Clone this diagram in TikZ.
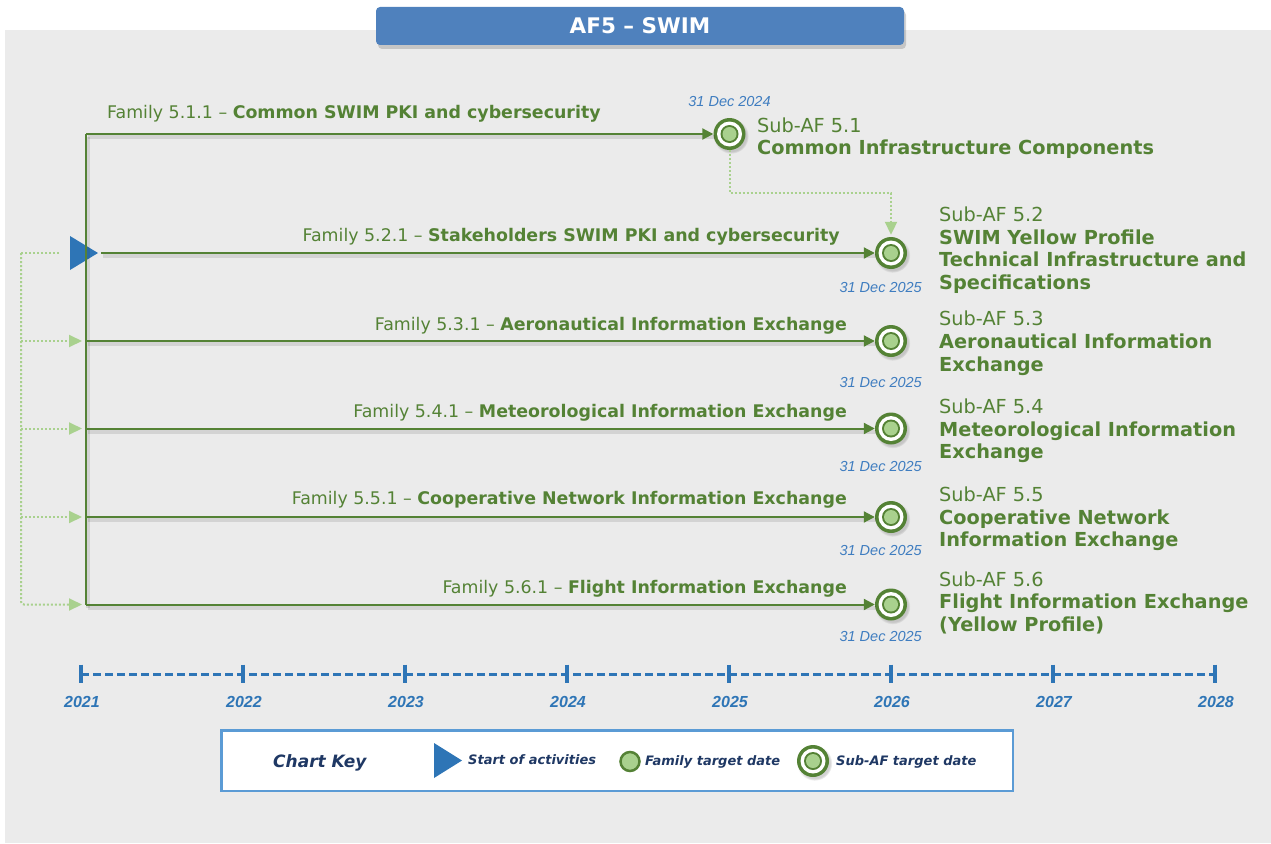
\documentclass[tikz,border=0pt]{standalone}
\usepackage{fontspec}
\setmainfont{DejaVu Sans}
\newfontfamily\arialfont{Liberation Sans}
\usetikzlibrary{arrows.meta,shadows}
\definecolor{dgreen}{HTML}{548235}
\definecolor{lgreen}{HTML}{A9D18E}
\definecolor{tblue}{HTML}{2E75B6}
\definecolor{dateblue}{HTML}{3F7DC0}
\definecolor{titleblue}{HTML}{4F81BD}
\definecolor{keyborder}{HTML}{5B9BD5}
\definecolor{navy}{HTML}{1F3864}
\definecolor{bggray}{HTML}{EBEBEB}
\begin{document}
\begin{tikzpicture}[x=1pt,y=-1pt,
  famline/.style={draw=dgreen, line width=2pt, -{Triangle[length=11pt,width=11pt]},
    preaction={draw=black, opacity=0.10, line width=4pt, arrows=-, transform canvas={shift={(1.5pt,-3pt)}}}},
  plainline/.style={draw=dgreen, line width=2pt,
    preaction={draw=black, opacity=0.10, line width=4pt, transform canvas={shift={(1.5pt,-3pt)}}}},
  dotline/.style={draw=lgreen, line width=2pt, dash pattern=on 2pt off 2pt},
  dotarrow/.style={dotline, -{Triangle[length=13pt,width=12pt]}},
  subaf/.style={circle, minimum size=32pt, inner sep=0pt, fill=dgreen,
    circular drop shadow={shadow xshift=1.5pt, shadow yshift=-2pt, opacity=0.35},
    path picture={
      \fill[white] (path picture bounding box.center) circle (12.5pt);
      \fill[dgreen] (path picture bounding box.center) circle (9pt);
      \fill[lgreen] (path picture bounding box.center) circle (7pt);}},
  famdot/.style={circle, minimum size=19pt, inner sep=0pt, fill=lgreen, draw=dgreen, line width=2.5pt},
  famlab/.style={inner sep=0pt, text=dgreen, font=\fontsize{17.4}{21}\selectfont},
  sublab/.style={inner sep=0pt, text=dgreen, anchor=base west, font=\fontsize{19.3}{23}\selectfont},
  datelab/.style={inner sep=0pt, text=dateblue, font=\arialfont\itshape\fontsize{14.5}{17}\selectfont},
  yearlab/.style={inner sep=0pt, text=tblue, anchor=base, font=\arialfont\bfseries\itshape\fontsize{16}{19}\selectfont},
  keylab/.style={inner sep=0pt, text=navy, anchor=base west, font=\bfseries\itshape\fontsize{13}{16}\selectfont},
]
\useasboundingbox (0,0) rectangle (1271,843);
% background
\fill[bggray] (5,30) rectangle (1271,843);

% title
\node[fill=titleblue, rounded corners=4pt, minimum width=528pt, minimum height=38pt, inner sep=0pt,
  drop shadow={shadow xshift=2pt, shadow yshift=-4pt, opacity=0.35},
  text=white, font=\bfseries\fontsize{21.5}{24}\selectfont] (title) at (640,26) {AF5 -- SWIM};

% sub-AF target circles
\node[subaf] (c51) at (729.5,134) {};
\node[subaf] (c52) at (891,253) {};
\node[subaf] (c53) at (891,341) {};
\node[subaf] (c54) at (891,428.5) {};
\node[subaf] (c55) at (891,517) {};
\node[subaf] (c56) at (891,604.5) {};

% start triangle
\fill[tblue] (70,236) -- (70,270) -- (98,253) -- cycle;
\coordinate (tritip) at (101,253);

% main green connectors
\coordinate (vtop) at (86,134);
\coordinate (vbot) at (86,604.5);
\coordinate (r3) at (86,341);
\coordinate (r4) at (86,428.5);
\coordinate (r5) at (86,517);
\draw[plainline] (vbot) -- (vtop);
\draw[famline] (vtop) -- (c51);
\draw[famline] (tritip) -- (c52);
\draw[famline] (r3) -- (c53);
\draw[famline] (r4) -- (c54);
\draw[famline] (r5) -- (c55);
\draw[famline] (vbot) -- (c56);

% dotted light green connectors
\coordinate (d2) at (21,253);
\coordinate (d6) at (21,604.5);
\coordinate (d2e) at (59,253);
\coordinate (a3) at (82,341);
\coordinate (a4) at (82,428.5);
\coordinate (a5) at (82,517);
\coordinate (a6) at (82,604.5);
\draw[dotline] (d2e) -- (d2);
\draw[dotarrow, rounded corners=3pt] (d2) -- (d6) -- (a6);
\draw[dotarrow] (21,341) -- (a3);
\draw[dotarrow] (21,428.5) -- (a4);
\draw[dotarrow] (21,517) -- (a5);
\draw[dotarrow] (c51.south) -- (729.5,193) -- (891,193) -- ([yshift=2pt]c52.north);

% family labels
\node[famlab, anchor=base west] (f511) at (107,118) {Family 5.1.1 -- \textbf{Common SWIM PKI and cybersecurity}};
\node[famlab, anchor=base east] (f521) at (840,241) {Family 5.2.1 -- \textbf{Stakeholders SWIM PKI and cybersecurity}};
\node[famlab, anchor=base east] (f531) at (847,330) {Family 5.3.1 -- \textbf{Aeronautical Information Exchange}};
\node[famlab, anchor=base east] (f541) at (847,417.3) {Family 5.4.1 -- \textbf{Meteorological Information Exchange}};
\node[famlab, anchor=base east] (f551) at (847,504) {Family 5.5.1 -- \textbf{Cooperative Network Information Exchange}};
\node[famlab, anchor=base east] (f561) at (847,593) {Family 5.6.1 -- \textbf{Flight Information Exchange}};

% dates
\node[datelab, anchor=base] (t51) at (729.5,106.7) {31 Dec 2024};
\node[datelab, anchor=base east] (t52) at (922,292.3) {31 Dec 2025};
\node[datelab, anchor=base east] (t53) at (922,387.3) {31 Dec 2025};
\node[datelab, anchor=base east] (t54) at (922,471.7) {31 Dec 2025};
\node[datelab, anchor=base east] (t55) at (922,555.3) {31 Dec 2025};
\node[datelab, anchor=base east] (t56) at (922,641.7) {31 Dec 2025};

% sub-AF labels
\node[sublab] (s51a) at (757,132.7) {Sub-AF 5.1};
\node[sublab] (s51b) at (757,154.5) {\bfseries Common Infrastructure Components};
\node[sublab] (s52a) at (939,221.5) {Sub-AF 5.2};
\node[sublab] (s52b) at (939,244.2) {\bfseries SWIM Yellow Profile};
\node[sublab] (s52c) at (939,266.9) {\bfseries Technical Infrastructure and};
\node[sublab] (s52d) at (939,289.6) {\bfseries Specifications};
\node[sublab] (s53a) at (939,325.7) {Sub-AF 5.3};
\node[sublab] (s53b) at (939,348.4) {\bfseries Aeronautical Information};
\node[sublab] (s53c) at (939,371.1) {\bfseries Exchange};
\node[sublab] (s54a) at (939,413.3) {Sub-AF 5.4};
\node[sublab] (s54b) at (939,436) {\bfseries Meteorological Information};
\node[sublab] (s54c) at (939,458.7) {\bfseries Exchange};
\node[sublab] (s55a) at (939,501.5) {Sub-AF 5.5};
\node[sublab] (s55b) at (939,524.2) {\bfseries Cooperative Network};
\node[sublab] (s55c) at (939,546.9) {\bfseries Information Exchange};
\node[sublab] (s56a) at (939,586) {Sub-AF 5.6};
\node[sublab] (s56b) at (939,608.7) {\bfseries Flight Information Exchange};
\node[sublab] (s56c) at (939,631.4) {\bfseries (Yellow Profile)};

% timeline
\draw[tblue, line width=3pt, dash pattern=on 8pt off 4pt] (81,674) -- (1215,674);
\foreach \x/\yr in {81/2021,243/2022,405/2023,567/2024,729/2025,891/2026,1053/2027,1215/2028}{
  \draw[tblue, line width=4pt] (\x,664.5) -- (\x,683);
  \node[yearlab] (y\yr) at (\x+1,707.3) {\yr};
}

% chart key
\draw[draw=keyborder, fill=white, line width=2.5pt] (221.5,730.5) rectangle (1013,791);
\node[inner sep=0pt, text=navy, anchor=base west, font=\bfseries\itshape\fontsize{17}{20}\selectfont] (ck) at (273,767.5) {Chart Key};
\fill[tblue] (434,743) -- (434,778) -- (462,760.5) -- cycle;
\node[keylab] (k1) at (468,764.5) {Start of activities};
\node[famdot] (kf) at (630,761.5) {};
\node[keylab] (k2) at (645,765) {Family target date};
\node[subaf] (ks) at (813,761) {};
\node[keylab] (k3) at (836,765) {Sub-AF target date};
\end{tikzpicture}
\end{document}
